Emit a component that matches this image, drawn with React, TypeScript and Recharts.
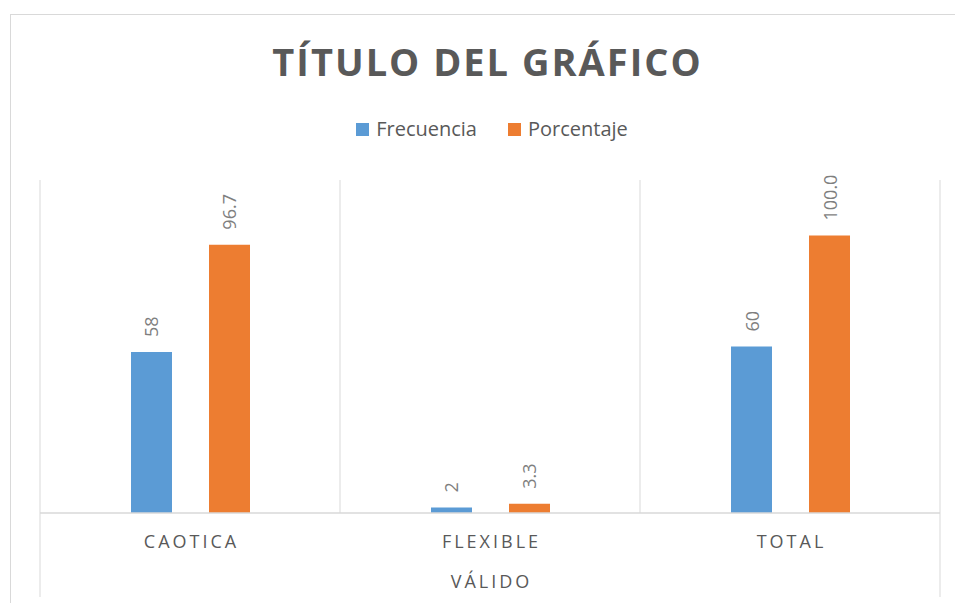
import { BarChart, Bar, XAxis, YAxis, CartesianGrid, LabelList } from 'recharts';

const title = 'TÍTULO DEL GRÁFICO';
const categories = ['CAOTICA', 'FLEXIBLE', 'TOTAL'];
const groupLabel = 'VÁLIDO';
const frecuencia = [58, 2, 60];
const porcentaje = [96.7, 3.3, 100.0];

const series = [
  { key: 'frecuencia', name: 'Frecuencia', color: '#5B9BD5', digits: 0 },
  { key: 'porcentaje', name: 'Porcentaje', color: '#ED7D31', digits: 1 },
];

const data = categories.map((category, i) => ({
  category,
  frecuencia: frecuencia[i],
  porcentaje: porcentaje[i],
}));

const FONT = '"Open Sans", sans-serif';
const GRID = '#d9d9d9';
const TEXT = '#595959';

function CategoryTick(props: any) {
  const { x, y, payload, index } = props;
  const half = payload?.offset || 150;
  const last = index === categories.length - 1;
  return (
    <g>
      <text
        x={x + 1.5}
        y={y + 35}
        textAnchor="middle"
        fill={TEXT}
        fontSize={18}
        letterSpacing={3}
        fontFamily={FONT}
      >
        {payload.value}
      </text>
      {index === 0 && <line x1={x - half} x2={x - half} y1={y} y2={y + 84} stroke={GRID} />}
      {last && <line x1={x + half} x2={x + half} y1={y} y2={y + 84} stroke={GRID} />}
    </g>
  );
}

function makeValueLabel(digits: number) {
  return (props: any) => {
    const { x, y, width, value } = props;
    const cx = x + width / 2;
    const ty = y - 15;
    return (
      <text
        x={cx}
        y={ty}
        transform={`rotate(-90, ${cx}, ${ty})`}
        textAnchor="start"
        dominantBaseline="central"
        fill="#7f7f7f"
        fontSize={18}
        fontFamily={FONT}
      >
        {Number(value).toFixed(digits)}
      </text>
    );
  };
}

export default function App() {
  return (
    <div
      style={{
        position: 'absolute',
        left: 0,
        top: 0,
        width: 955,
        height: 603,
        overflow: 'hidden',
        background: '#fff',
        fontFamily: FONT,
      }}
    >
      <div
        style={{
          position: 'absolute',
          left: 10,
          top: 14,
          width: 980,
          height: 620,
          border: `1px solid ${GRID}`,
        }}
      />
      <div
        style={{
          position: 'absolute',
          left: 20,
          top: 42,
          width: 935,
          textAlign: 'center',
          fontSize: 38,
          lineHeight: 1,
          fontWeight: 700,
          letterSpacing: 2,
          color: TEXT,
        }}
      >
        {title}
      </div>
      <div
        style={{
          position: 'absolute',
          left: 0,
          top: 115,
          width: 984,
          display: 'flex',
          justifyContent: 'center',
          gap: 31,
          fontSize: 20,
          lineHeight: '28px',
          color: TEXT,
        }}
      >
        {series.map((s) => (
          <div key={s.key} style={{ display: 'flex', alignItems: 'center', gap: 7 }}>
            <span style={{ width: 13, height: 13, background: s.color, display: 'inline-block' }} />
            <span>{s.name}</span>
          </div>
        ))}
      </div>
      <div style={{ position: 'absolute', left: 0, top: 0 }}>
        <BarChart
          width={955}
          height={603}
          data={data}
          margin={{ top: 180, right: 15, left: 40, bottom: 0 }}
          barSize={41}
          barGap={37}
        >
          <CartesianGrid
            horizontal={false}
            stroke={GRID}
            verticalCoordinatesGenerator={({ offset }: any) =>
              categories.concat(['']).map((_, i) => offset.left + (i * offset.width) / categories.length)
            }
          />
          <XAxis
            dataKey="category"
            height={90}
            axisLine={{ stroke: GRID, strokeWidth: 1.5 }}
            tickLine={false}
            tickSize={0}
            tickMargin={0}
            interval={0}
            tick={<CategoryTick />}
            label={{
              content: ({ viewBox }: any) => (
                <text
                  x={viewBox.x + viewBox.width / 2 + 1.5}
                  y={viewBox.y + viewBox.height - 15}
                  textAnchor="middle"
                  fill={TEXT}
                  fontSize={18}
                  letterSpacing={3}
                  fontFamily={FONT}
                >
                  {groupLabel}
                </text>
              ),
            }}
          />
          <YAxis hide domain={[0, 120]} />
          {series.map((s) => (
            <Bar key={s.key} dataKey={s.key} name={s.name} fill={s.color} isAnimationActive={false}>
              <LabelList dataKey={s.key} content={makeValueLabel(s.digits)} />
            </Bar>
          ))}
        </BarChart>
      </div>
    </div>
  );
}
